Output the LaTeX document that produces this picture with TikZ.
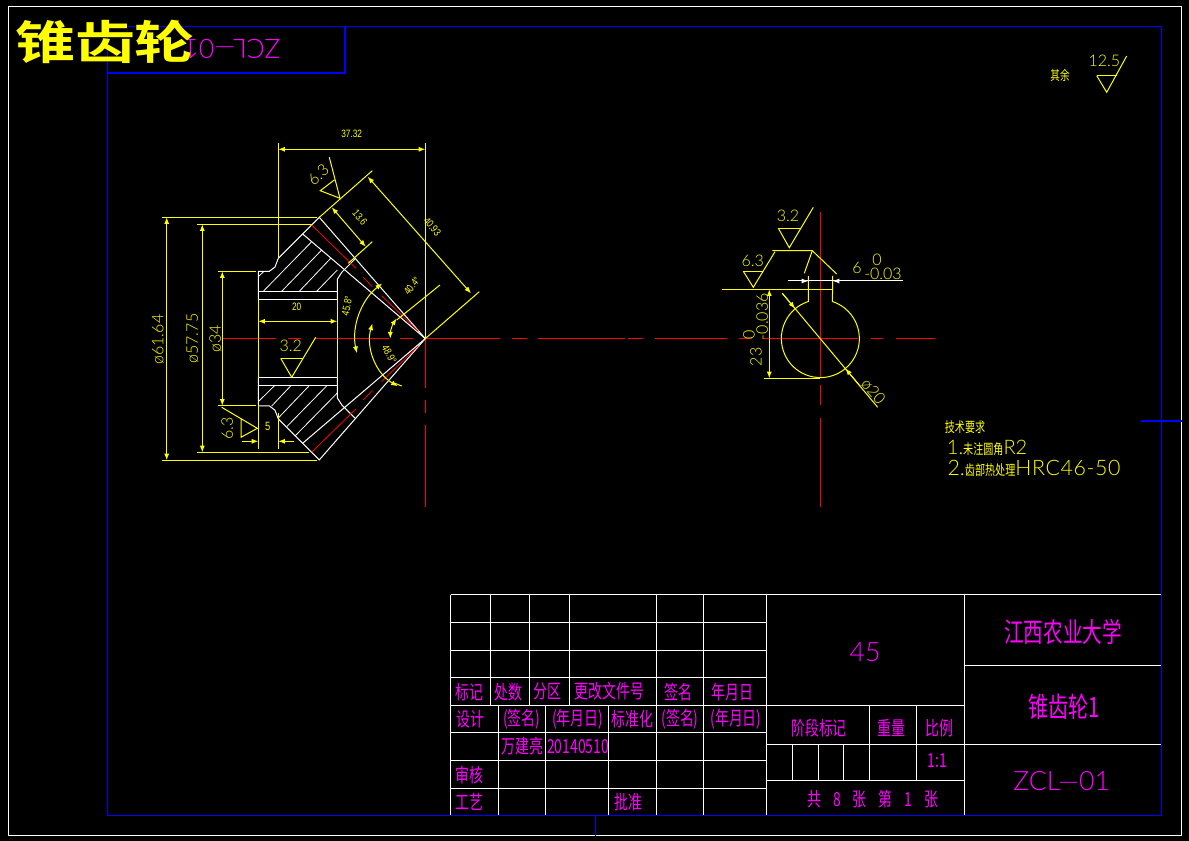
\documentclass[tikz,border=0pt]{standalone}
\usepackage{fontspec}
\usetikzlibrary{arrows.meta}
\setmainfont{Liberation Sans}
\newfontfamily\cadfont{Lato Light}
\newfontfamily\smallfont[FakeStretch=0.78]{Liberation Sans}
\newfontfamily\cjkfont[FakeStretch=0.72]{Noto Sans CJK SC}
\newfontfamily\titlefont[FakeStretch=1.3]{Noto Sans CJK SC Bold}

\definecolor{cadyellow}{RGB}{255,255,0}
\definecolor{cadpink}{RGB}{255,0,255}
\definecolor{cadblue}{RGB}{0,0,255}
\definecolor{cadred}{RGB}{255,0,0}

\tikzset{
  framewhite/.style={white, line width=0.8pt},
  frameblue/.style={cadblue, line width=0.75pt},
  outline/.style={white, line width=0.75pt},
  hatch/.style={white, line width=0.6pt},
  pitch/.style={cadred, line width=0.6pt},
  axis/.style={cadred, line width=0.9pt},
  ext/.style={cadyellow, line width=0.75pt},
  tipped/.style={>={Latex[length=5pt,width=3.8pt]}},
  dimline/.style={cadyellow, line width=0.75pt, tipped, <->},
  arcline/.style={cadyellow, line width=0.75pt},
  dimbig/.style={text=cadyellow, inner sep=0pt, font=\cadfont\fontsize{12}{12}\selectfont},
  dimsmall/.style={text=cadyellow, inner sep=0pt, font=\smallfont\fontsize{8}{8}\selectfont},
  tbltext/.style={text=cadpink, inner sep=0pt, font=\cjkfont\fontsize{14.5}{15}\selectfont},
  cadtext/.style={text=cadpink, inner sep=0pt, font=\cadfont\fontsize{20}{20}\selectfont},
  notetext/.style={text=cadyellow, inner sep=0pt, anchor=west},
}

\begin{document}
\begin{tikzpicture}[x=0.75pt,y=-0.75pt]

\fill [black] (0,0) rectangle (1189,841);
\useasboundingbox (0,0) rectangle (1189,841);

% frames
\draw [framewhite] (8.5,6.5) rectangle (1181.5,835.5);
\draw [frameblue] (107.5,26.5) rectangle (1161.5,815.5);
\draw [frameblue, line width=0.9pt] (107.5,73) -- (345,73) -- (345,26.5);
\draw [frameblue] (595.5,815.5) -- (595.5,835.5);
\draw [frameblue, line width=0.9pt] (1141,421) -- (1181.5,421);

\node [cadtext, rotate=180] (codeflip) at (232,49) {ZCL—01};
\node [text=cadyellow, inner sep=0pt, font=\titlefont\fontsize{34.6}{36}\selectfont] (title) at (105,42) {锥齿轮};

% centre lines
\foreach \a/\b in {221.7/276,288.3/301,315/389.3,400/413.3,425/500,512/527,538/625,628/643,655/727,739/752,763/858,871/883,896/935}
    \draw [axis] (\a,338.6) -- (\b,338.6);
\foreach \a/\b in {212/378.3,385/405,418/507}
    \draw [axis] (820.3,\a) -- (820.3,\b);
\foreach \a/\b in {338.6/388,400/413,425/507}
    \draw [pitch] (425.3,\a) -- (425.3,\b);

% half section, drawn twice
\foreach \m/\d in {1/0,-1/677.2} {
\begin{scope}[cm={1,0,0,\m,(0,\d)}]
\draw [outline] (258.3,299.3) -- (258.3,271.3) -- (269.3,271.3) -- (275,267) -- (278.3,258.3) -- (319.3,217.3) -- (425.3,338.6);
\draw [outline] (302.7,234) -- (425.3,338.6);
\draw [outline] (337.3,299.3) -- (337.3,279.3) -- (342,272) -- (355,259);
\draw [outline] (258.3,291.3) -- (337.3,291.3);
\draw [outline] (258.3,299.3) -- (337.3,299.3);
\draw [pitch] (311.7,225) -- (356,268.3);
\draw [pitch] (363.3,277.3) -- (372.3,286.7);
\draw [pitch] (381.7,295.7) -- (418,331);
\end{scope}
}

% hatching
\foreach \a/\b/\c/\d in {258.3/276.7/264/271.3,263.3/291.3/311.7/241.7,281.7/291.3/321.7/250,299.3/291.3/330.7/258.3,316.7/291.3/337.3/270,
    258.3/401.7/274.3/385.9,271.7/406/290.7/385.9,278.3/418/309/385.9,286.7/426.7/326.7/385.9,295/436/337.3/393}
    \draw [hatch] (\a,\b) -- (\c,\d);

% extension lines
\draw [ext] (258.3,299.3) -- (258.3,377.9);
\draw [ext] (258.3,405.5) -- (258.3,449.3);
\draw [ext] (337.3,299.3) -- (337.3,378);
\draw [ext] (278.3,142.7) -- (278.3,258.3);
\draw [ext] (425.3,142.7) -- (425.3,338.6);
\draw [ext] (278.3,413.3) -- (278.3,449.3);
\draw [ext] (162.3,217.3) -- (316.7,217.3);
\draw [ext] (162.3,460.3) -- (316.7,460.3);
\draw [ext] (197.3,224.3) -- (312,224.3);
\draw [ext] (197.3,452.3) -- (309,452.3);
\draw [ext] (218.3,271.3) -- (256,271.3);
\draw [ext] (218.3,405.7) -- (256,405.7);
\draw [ext] (319.3,217.3) -- (372.3,170.7);
\draw [ext] (348.3,263.3) -- (372.3,241.7);
\draw [ext] (425.3,338.6) -- (479.3,291.7);
\draw [ext] (396.7,320) -- (440,285);

% dimensions
\draw [dimline] (278.3,149.3) -- (425.3,149.3);
\draw [dimline] (331.7,207.3) -- (365.7,246.7);
\draw [dimline] (367.7,176.7) -- (471,293.3);
\draw [dimline] (166.7,217.3) -- (166.7,460.3);
\draw [dimline] (202.3,224.3) -- (202.3,452.3);
\draw [dimline] (222.3,271.3) -- (222.3,405.7);
\draw [dimline] (258.3,321.3) -- (337.3,321.3);
\draw [ext, tipped, ->] (241.7,441.3) -- (258.3,441.3);
\draw [ext, tipped, ->] (294,441.3) -- (278.3,441.3);

% angle arcs
\draw [arcline, tipped, <->] (425.3,338.6) ++(-128:70) arc[start angle=-128, end angle=-192, radius=70];
\draw [arcline, tipped, <->] (425.3,338.6) ++(-164:55) arc[start angle=-164, end angle=-240, radius=55];
\draw [arcline] (395,383.3) -- (401.7,386);
\draw [arcline, tipped, <->] (425.3,338.6) ++(-145:35) arc[start angle=-145, end angle=-180, radius=35];

\node [dimsmall] (len) at (351.7,134.3) {37.32};
\node [dimsmall, rotate=-50] (tooth) at (360,217.7) {13.6};
\node [dimsmall, rotate=-50] (cone) at (432.3,226.7) {40.93};
\node [dimsmall] (bore) at (296.7,306.7) {20};
\node [dimsmall, font=\smallfont\fontsize{9}{9}\selectfont] (hub) at (267.7,426.7) {5};
\node [dimsmall, rotate=78] (angA) at (347,306) {45.8°};
\node [dimsmall, rotate=52] (angB) at (412,286) {40.4°};
\node [dimsmall, rotate=-62] (angC) at (389.3,354.3) {48.9°};
\node [dimbig, rotate=90] (dA) at (158,339.6) {ø61.64};
\node [dimbig, rotate=90] (dB) at (192.5,338.6) {ø57.75};
\node [dimbig, rotate=90] (dC) at (215.5,338.6) {ø34};

% surface marks, main view
\node [dimbig] (ra1) at (290.7,346) {3.2};
\draw [ext] (280.7,358.3) -- (302.7,358.3);
\draw [ext] (280.7,358.3) -- (291.7,377.3) -- (315.7,337.3);
\node [dimbig, rotate=90] (ra2) at (227.3,428.3) {6.3};
\draw [ext] (241,419.3) -- (241,437.3) -- (257.3,428.3) -- (221.7,407.3);
\node [dimbig, rotate=42] (ra3) at (318.3,175) {6.3};
\draw [ext] (334.3,180) -- (320.3,190.7) -- (340,198.3) -- (329.3,157.3);
\node [dimbig] (ra4) at (1104.3,61) {12.5};
\draw [ext] (1096.7,75.7) -- (1116.7,75.7);
\draw [ext] (1096.7,75.7) -- (1106.7,92.3) -- (1126.7,56);
\node [text=cadyellow, inner sep=0pt, font=\cjkfont\fontsize{10}{10}\selectfont] (rest) at (1060,75) {其余};

% key section
\draw [ext] (808.3,276) -- (808.3,301.5) arc[start angle=-108, end angle=-432, radius=39] -- (832.7,276);
\draw [ext] (722,289.3) -- (832.7,289.3);
\draw [ext] (764,378.3) -- (820.3,378.3);
\draw [white, line width=0.75pt] (788,281) -- (902.7,281);
\draw [white, line width=0.75pt, tipped, ->] (795,281) -- (808.3,281);
\draw [white, line width=0.75pt, tipped, ->] (845,281) -- (832.7,281);
\draw [dimline] (769.3,289.3) -- (769.3,378.3);
\draw [ext] (782.3,293.3) -- (877.7,407.3);
\draw [ext, tipped, ->] (782.3,293.3) -- (795,308.5);
\draw [ext, tipped, ->] (860,386) -- (845.4,368.5);
\node [dimbig, rotate=-50] (phi) at (873.3,391.7) {ø20};
\node [dimbig] (key) at (857,268) {6};
\node [dimbig] (keyhi) at (877,260) {0};
\node [dimbig] (keylo) at (883,274) {-0.03};
\node [dimbig, rotate=90] (dep) at (756,357) {23};
\node [dimbig, rotate=90] (dephi) at (749,335) {0};
\node [dimbig, rotate=90] (deplo) at (762.3,316.7) {-0.036};
\node [dimbig] (ra5) at (788,215.7) {3.2};
\draw [ext] (778.3,228.3) -- (800.7,228.3);
\draw [ext] (778.3,228.3) -- (789.3,247.7) -- (813.3,207.3);
\draw [ext] (772.3,250.7) -- (812.3,250.7) -- (836.7,274);
\draw [ext] (812.3,250.7) -- (804.3,273.3);
\node [dimbig] (ra6) at (752.7,261) {6.3};
\draw [ext] (743.3,271.3) -- (763.3,271.3);
\draw [ext] (743.3,271.3) -- (753.3,287.3) -- (775,251.7);

% notes
\node [text=cadyellow, inner sep=0pt, font=\cjkfont\fontsize{10.5}{11}\selectfont] (req) at (965,426.7) {技术要求};
\node [notetext] (req1) at (946.7,448) {\cadfont\fontsize{15}{15}\selectfont 1.\cjkfont\fontsize{10.5}{11}\selectfont 未注圆角\cadfont\fontsize{15}{15}\selectfont R2};
\node [notetext] (req2) at (947.3,468.5) {\cadfont\fontsize{16}{16}\selectfont 2.\cjkfont\fontsize{10.5}{11}\selectfont 齿部热处理\cadfont\fontsize{16}{16}\selectfont\addfontfeature{LetterSpace=3}HRC46-50};

% title block rules
\foreach \y in {594.5,622.5,650.5,677.5,705.5,732.5,760.5,788.5}
    \draw [framewhite] (450.5,\y) -- (766.5,\y);
\foreach \x in {450.5,656.5,703.5,766.5}
    \draw [framewhite] (\x,594.5) -- (\x,815);
\foreach \x in {490.5,529.5,569.5}
    \draw [framewhite] (\x,594.5) -- (\x,705.5);
\foreach \x in {498.5,545.5,608.5}
    \draw [framewhite] (\x,705.5) -- (\x,815);
\draw [framewhite] (766.5,594.5) -- (1161,594.5);
\draw [framewhite] (964.5,594.5) -- (964.5,815);
\draw [framewhite] (964.5,665.5) -- (1161,665.5);
\draw [framewhite] (766.5,705.5) -- (964.5,705.5);
\draw [framewhite] (766.5,744.5) -- (1161,744.5);
\draw [framewhite] (766.5,780.5) -- (964.5,780.5);
\foreach \x in {869.5,916.5}
    \draw [framewhite] (\x,705.5) -- (\x,780.5);
\foreach \x in {792.5,818.5,843.5}
    \draw [framewhite] (\x,744.5) -- (\x,780.5);
\draw [frameblue] (450.5,815.5) -- (1161.5,815.5);

% title block text
\foreach \i/\x/\y/\t in {a/469/691.7/标记,b/508.3/691.7/处数,c/547.3/691.7/分区,d/609.3/691/更改文件号,e/678.3/692.3/签名,f/732.3/692.3/年月日,
    g/470.7/719.3/设计,h/521.7/719.3/(签名),i/577.7/719.3/(年月日),j/632.3/719.3/标准化,k/680/719.3/(签名),l/736/719.3/(年月日),
    m/522.7/746/万建亮,n/578/746.7/20140510,o/469.3/775/审核,p/469.3/802.3/工艺,q/628.3/802.3/批准,
    r/819/727.7/阶段标记,s/891/728.3/重量,t/939.3/728.3/比例,u/937.3/761/1:1,
    v/872.7/799.3/共\hspace{9pt}8\hspace{9pt}张\hspace{9pt}第\hspace{9pt}1\hspace{9pt}张}
    \node [tbltext] (cell\i) at (\x,\y) {\t};

\node [cadtext] (matl) at (865,652) {45};
\node [tbltext, font=\cjkfont\fontsize{20.5}{22}\selectfont] (school) at (1063.3,631.7) {江西农业大学};
\node [tbltext, font=\cjkfont\fontsize{21}{23}\selectfont] (part) at (1064,707.3) {锥齿轮1};
\node [cadtext] (code) at (1061.7,781) {ZCL—01};

\end{tikzpicture}
\end{document}
